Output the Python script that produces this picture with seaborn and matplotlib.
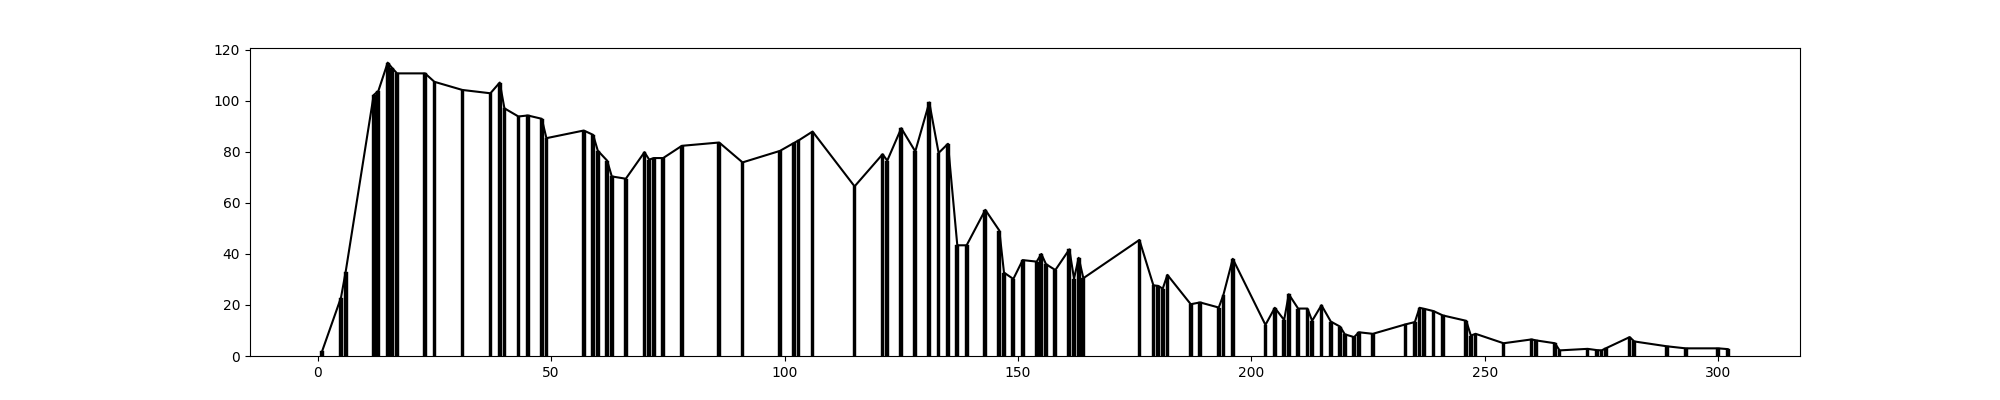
import matplotlib
matplotlib.use("Agg")
import matplotlib.pyplot as plt
import numpy as np
import seaborn as sns

positions = [1, 5, 6, 12, 13, 15, 16, 17, 23, 25,
             31, 37, 39, 40, 43, 45, 48, 49, 57, 59,
             60, 62, 63, 66, 70, 71, 72, 74, 78, 86,
             91, 99, 102, 103, 106, 115, 121, 122, 125, 128,
             131, 133, 135, 137, 139, 143, 146, 147, 149, 151,
             154, 155, 156, 158, 161, 162, 163, 164, 176, 179,
             180, 181, 182, 187, 189, 193, 194, 196, 203, 205,
             207, 208, 210, 212, 213, 215, 217, 219, 220, 222,
             223, 226, 233, 235, 236, 237, 239, 241, 246, 247,
             248, 254, 260, 261, 265, 266, 272, 274, 275, 276,
             281, 282, 289, 293, 300, 302]

values = [2.1, 22.9, 33.0, 102.3, 103.9, 115.0, 112.8, 110.8, 110.8, 107.5,
          104.3, 103.0, 107.2, 97.1, 93.9, 94.3, 93.0, 85.4, 88.4, 86.7,
          80.5, 76.6, 70.4, 69.5, 79.9, 77.0, 77.6, 77.6, 82.4, 83.7,
          75.9, 80.4, 83.5, 84.5, 88.0, 66.5, 79.1, 76.6, 89.3, 80.2,
          99.4, 79.6, 83.2, 43.4, 43.4, 57.3, 49.2, 32.7, 30.2, 37.6,
          37.0, 40.0, 36.0, 33.7, 41.8, 30.3, 38.5, 30.5, 45.5, 27.7,
          27.5, 26.4, 31.8, 20.3, 21.0, 19.0, 24.0, 38.1, 12.2, 18.9,
          14.1, 24.2, 18.6, 18.6, 13.8, 19.9, 13.5, 11.5, 8.5, 7.4,
          9.3, 8.7, 12.4, 13.3, 18.9, 18.5, 17.6, 15.9, 13.8, 8.0,
          8.7, 5.0, 6.5, 6.1, 5.0, 2.2, 2.8, 2.3, 2.2, 3.1,
          7.4, 5.7, 3.8, 3.0, 3.0, 2.7]

x = np.array(positions)
y = np.array(values)

fig, ax = plt.subplots(figsize=(20, 4), dpi=100)

# stems as narrow bars, outline drawn through the tops
ax.bar(x, y, width=0.8, color="black", edgecolor="black", linewidth=0.3)
sns.lineplot(x=x, y=y, color="black", linewidth=1.5, ax=ax)

fig.savefig("out.png", dpi=100)
